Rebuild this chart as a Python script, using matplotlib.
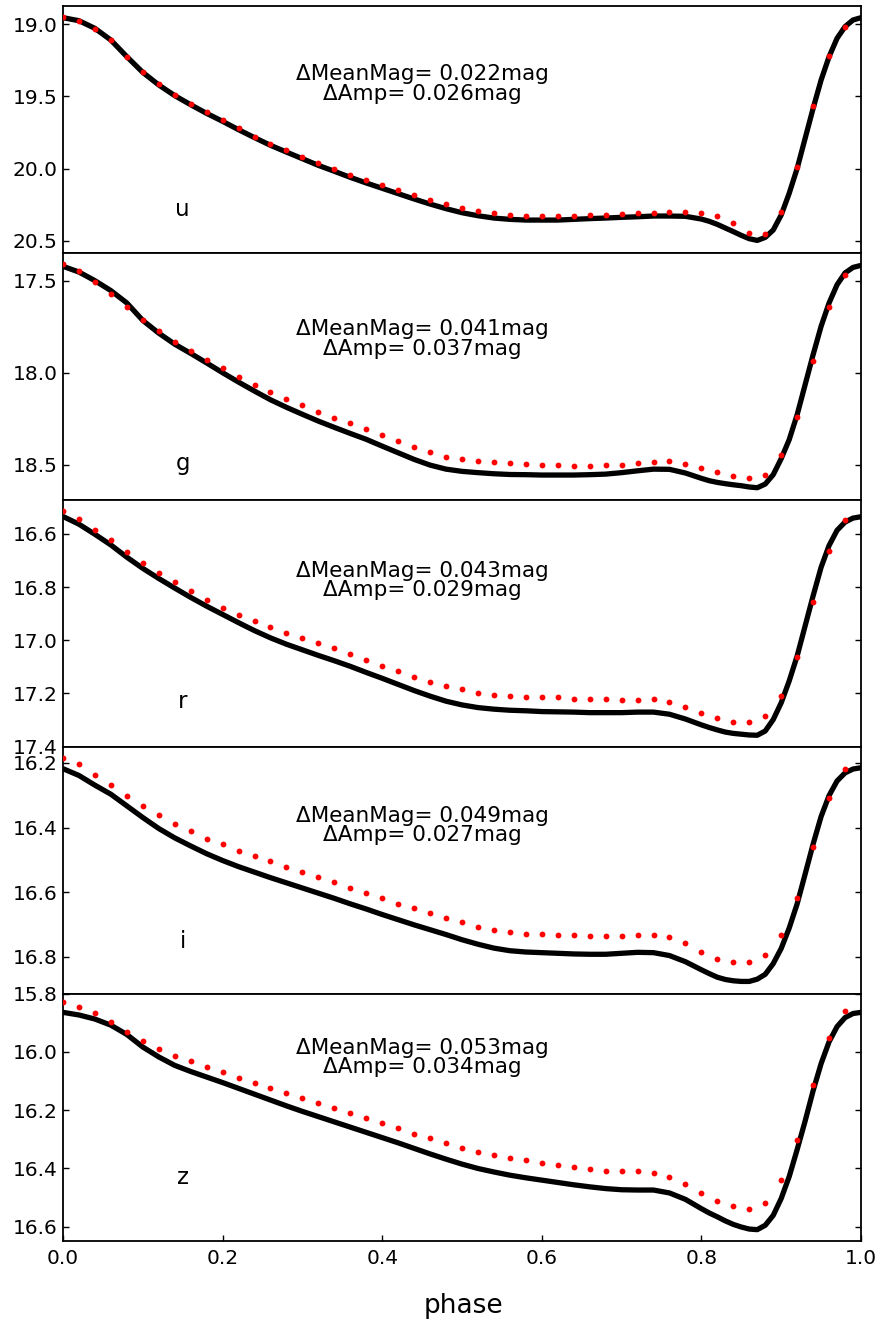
import numpy as np
import matplotlib
matplotlib.use("Agg")
import matplotlib.pyplot as plt

bands = ["u", "g", "r", "i", "z"]

# Phase grid of the template curves: 0.02 steps on the decline, 0.01 across minimum and rise
phase_model = np.round(np.r_[np.arange(0.0, 0.8001, 0.02), np.arange(0.81, 1.0001, 0.01)], 2)
# Phase bins of the observed light curves
phase_obs = np.round(np.arange(0.0, 0.9801, 0.02), 2)

model_u = [18.954, 18.975, 19.028, 19.109, 19.224, 19.333, 19.420, 19.494, 19.557, 19.617,
           19.672, 19.730, 19.785, 19.838, 19.885, 19.931, 19.977, 20.018, 20.060, 20.099,
           20.136, 20.173, 20.210, 20.245, 20.277, 20.305, 20.326, 20.342, 20.351, 20.356,
           20.356, 20.356, 20.351, 20.346, 20.342, 20.337, 20.333, 20.328, 20.328, 20.330,
           20.349,
           20.365, 20.386, 20.411, 20.436, 20.462, 20.485, 20.497, 20.476, 20.425, 20.321,
           20.171, 19.998, 19.790, 19.582, 19.386, 19.224, 19.097, 19.016, 18.970, 18.954]
obs_u = [18.952, 18.975, 19.030, 19.109, 19.224, 19.328, 19.416, 19.490, 19.552, 19.610,
         19.663, 19.721, 19.778, 19.829, 19.871, 19.917, 19.963, 20.002, 20.042, 20.081,
         20.115, 20.150, 20.185, 20.217, 20.245, 20.270, 20.296, 20.309, 20.321, 20.328,
         20.328, 20.328, 20.326, 20.323, 20.321, 20.316, 20.309, 20.305, 20.300, 20.298,
         20.309, 20.328, 20.374, 20.448, 20.453, 20.298, 19.986, 19.566, 19.219, 19.016]

model_g = [17.422, 17.453, 17.500, 17.554, 17.621, 17.716, 17.785, 17.845, 17.895, 17.947,
           18.000, 18.051, 18.100, 18.147, 18.188, 18.226, 18.263, 18.297, 18.330, 18.362,
           18.399, 18.435, 18.471, 18.502, 18.524, 18.536, 18.543, 18.549, 18.553, 18.554,
           18.556, 18.556, 18.556, 18.554, 18.551, 18.543, 18.533, 18.524, 18.525, 18.545,
           18.574,
           18.587, 18.596, 18.603, 18.609, 18.614, 18.621, 18.625, 18.605, 18.554, 18.467,
           18.364, 18.228, 18.065, 17.902, 17.748, 17.621, 17.522, 17.458, 17.428, 17.417]
obs_g = [17.409, 17.449, 17.509, 17.572, 17.645, 17.712, 17.775, 17.832, 17.882, 17.929,
         17.975, 18.022, 18.065, 18.107, 18.143, 18.178, 18.212, 18.245, 18.275, 18.308,
         18.341, 18.370, 18.406, 18.431, 18.457, 18.471, 18.482, 18.487, 18.493, 18.496,
         18.500, 18.502, 18.505, 18.505, 18.504, 18.500, 18.491, 18.484, 18.480, 18.495,
         18.518, 18.540, 18.560, 18.572, 18.558, 18.449, 18.241, 17.935, 17.643, 17.467]

model_r = [16.535, 16.564, 16.602, 16.642, 16.688, 16.730, 16.768, 16.804, 16.839, 16.872,
           16.903, 16.934, 16.964, 16.991, 17.015, 17.036, 17.057, 17.077, 17.098, 17.121,
           17.143, 17.166, 17.189, 17.210, 17.229, 17.243, 17.253, 17.259, 17.263, 17.265,
           17.268, 17.269, 17.270, 17.272, 17.272, 17.272, 17.270, 17.270, 17.278, 17.296,
           17.318,
           17.328, 17.337, 17.345, 17.350, 17.353, 17.356, 17.357, 17.341, 17.298, 17.235,
           17.153, 17.059, 16.946, 16.833, 16.726, 16.644, 16.587, 16.556, 16.541, 16.536]
obs_r = [16.513, 16.543, 16.585, 16.625, 16.668, 16.708, 16.746, 16.782, 16.816, 16.848,
         16.878, 16.904, 16.928, 16.952, 16.972, 16.991, 17.011, 17.031, 17.053, 17.074,
         17.096, 17.116, 17.137, 17.156, 17.172, 17.185, 17.197, 17.205, 17.210, 17.213,
         17.214, 17.215, 17.219, 17.220, 17.221, 17.223, 17.223, 17.221, 17.231, 17.249,
         17.274, 17.294, 17.307, 17.309, 17.286, 17.208, 17.062, 16.855, 16.663, 16.550]

model_i = [16.218, 16.239, 16.269, 16.297, 16.333, 16.369, 16.403, 16.432, 16.457, 16.481,
           16.502, 16.521, 16.538, 16.555, 16.571, 16.587, 16.603, 16.619, 16.636, 16.652,
           16.669, 16.685, 16.701, 16.716, 16.731, 16.747, 16.761, 16.773, 16.781, 16.785,
           16.787, 16.789, 16.791, 16.792, 16.792, 16.789, 16.786, 16.787, 16.796, 16.815,
           16.840,
           16.852, 16.863, 16.870, 16.874, 16.876, 16.876, 16.869, 16.854, 16.821, 16.774,
           16.711, 16.636, 16.544, 16.451, 16.366, 16.301, 16.256, 16.231, 16.219, 16.215]
obs_i = [16.185, 16.205, 16.236, 16.267, 16.301, 16.333, 16.362, 16.389, 16.412, 16.434,
         16.452, 16.472, 16.488, 16.505, 16.521, 16.536, 16.553, 16.569, 16.586, 16.602,
         16.618, 16.635, 16.650, 16.665, 16.679, 16.693, 16.708, 16.718, 16.724, 16.728,
         16.729, 16.731, 16.733, 16.736, 16.736, 16.734, 16.731, 16.733, 16.739, 16.758,
         16.784, 16.806, 16.816, 16.815, 16.795, 16.731, 16.618, 16.459, 16.308, 16.218]

model_z = [15.864, 15.873, 15.887, 15.908, 15.940, 15.983, 16.017, 16.046, 16.067, 16.086,
           16.105, 16.125, 16.145, 16.165, 16.185, 16.204, 16.222, 16.240, 16.258, 16.276,
           16.294, 16.312, 16.331, 16.350, 16.368, 16.385, 16.400, 16.412, 16.423, 16.432,
           16.440, 16.448, 16.456, 16.463, 16.469, 16.473, 16.474, 16.474, 16.484, 16.506,
           16.538,
           16.553, 16.566, 16.580, 16.592, 16.601, 16.608, 16.610, 16.595, 16.561, 16.503,
           16.428, 16.335, 16.237, 16.133, 16.040, 15.965, 15.913, 15.882, 15.868, 15.864]
obs_z = [15.830, 15.844, 15.867, 15.896, 15.931, 15.963, 15.990, 16.013, 16.031, 16.050,
         16.068, 16.088, 16.106, 16.124, 16.141, 16.158, 16.176, 16.193, 16.210, 16.227,
         16.244, 16.261, 16.280, 16.297, 16.313, 16.328, 16.342, 16.354, 16.365, 16.372,
         16.380, 16.387, 16.395, 16.403, 16.409, 16.410, 16.410, 16.414, 16.429, 16.453,
         16.483, 16.510, 16.528, 16.540, 16.520, 16.440, 16.301, 16.112, 15.951, 15.860]

delta_mean = [0.022, 0.041, 0.043, 0.049, 0.053]
delta_amp = [0.026, 0.037, 0.029, 0.027, 0.034]

models = [model_u, model_g, model_r, model_i, model_z]
observed = [obs_u, obs_g, obs_r, obs_i, obs_z]

# Magnitude range of each panel (faint end, bright end)
ylims = [(20.582, 18.871), (18.690, 17.348), (17.400, 16.472), (16.914, 16.150), (16.648, 15.800)]
yticks = [[19.0, 19.5, 20.0, 20.5],
          [17.5, 18.0, 18.5],
          [16.6, 16.8, 17.0, 17.2, 17.4],
          [16.2, 16.4, 16.6, 16.8],
          [15.8, 16.0, 16.2, 16.4, 16.6]]
# vertical placement (axes fraction) of the band name and of the offset note
band_label_y = [0.176, 0.145, 0.185, 0.21, 0.254]
note_y = [0.683, 0.651, 0.674, 0.68, 0.741]

fig, axes = plt.subplots(5, 1, figsize=(8.81, 13.24), dpi=100, sharex=True)
fig.subplots_adjust(left=0.0715, right=0.9773, top=0.9957, bottom=0.0629, hspace=0)

for k, ax in enumerate(axes):
    ax.plot(phase_model, models[k], color="black", lw=3.8,
            solid_joinstyle="round", solid_capstyle="round", zorder=2)
    ax.plot(phase_obs, observed[k], "o", color="red", ms=4.2, mec="none", zorder=3)
    ax.set_xlim(0.0, 1.0)
    ax.set_ylim(*ylims[k])
    ax.set_yticks(yticks[k])
    ax.set_yticklabels([f"{t:.1f}" for t in yticks[k]])
    ax.tick_params(axis="y", direction="in", left=True, right=True,
                   length=4.5, width=1.0, labelsize=14.5, pad=4)
    ax.tick_params(axis="x", direction="in", bottom=(k == 4), top=False,
                   length=4.5, width=1.0, labelsize=14.5, pad=6)
    for sp in ax.spines.values():
        sp.set_linewidth(1.3)
    ax.text(0.15, band_label_y[k], bands[k], transform=ax.transAxes,
            ha="center", va="center", fontsize=16.5)
    ax.text(0.45, note_y[k],
            f"\u0394MeanMag= {delta_mean[k]:.3f}mag\n\u0394Amp= {delta_amp[k]:.3f}mag",
            transform=ax.transAxes, ha="center", va="center",
            fontsize=15.5, linespacing=0.95)

axes[-1].set_xticks([0.0, 0.2, 0.4, 0.6, 0.8, 1.0])
axes[-1].set_xticklabels(["0.0", "0.2", "0.4", "0.6", "0.8", "1.0"])
fig.text(0.5255, 1 - 1306 / 1324, "phase", ha="center", va="center", fontsize=19)

fig.savefig("out.png", dpi=100)
